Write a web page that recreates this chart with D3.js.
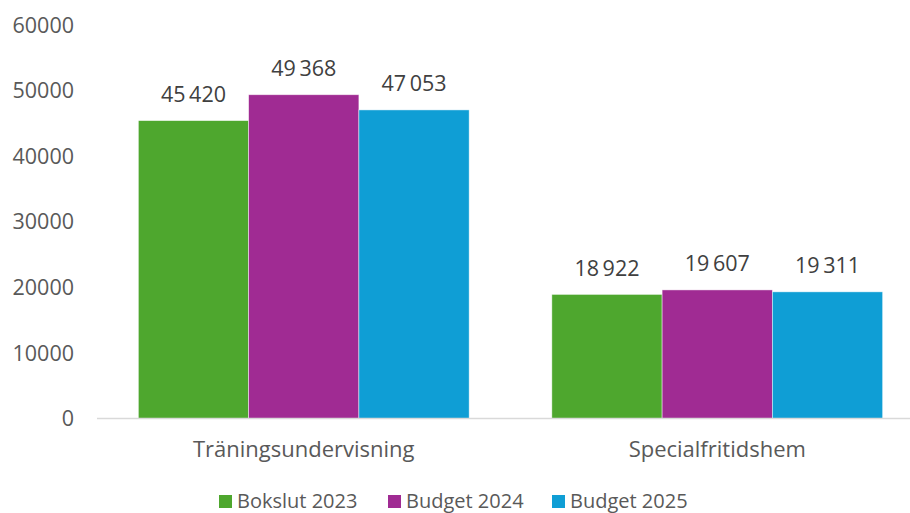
<!DOCTYPE html>
<html><head><meta charset="utf-8">
<script src="https://cdn.jsdelivr.net/npm/d3@7"></script>
<style>body{margin:0;background:#fff}svg{display:block}text{font-family:"Open Sans","Noto Sans",sans-serif}</style>
</head><body>
<svg id="c" width="910" height="513"></svg>
<script>
const categories = ["Träningsundervisning", "Specialfritidshem"];
const seriesNames = ["Bokslut 2023", "Budget 2024", "Budget 2025"];
const bokslut2023 = [45420, 18922];
const budget2024 = [49368, 19607];
const budget2025 = [47053, 19311];
const yTicks = [0, 10000, 20000, 30000, 40000, 50000, 60000];
const colors = ["#4EA72E", "#A02B93", "#0F9ED5"];

const seriesValues = [bokslut2023, budget2024, budget2025];
const svg = d3.select("#c");
const x0 = d3.scaleBand().domain(categories).range([97, 924]).paddingInner(0.2).paddingOuter(0.1);
const x1 = d3.scaleBand().domain(seriesNames).range([0, x0.bandwidth()]);
const y = d3.scaleLinear().domain([0, 60000]).range([418.5, 25]);
const fmt = v => d3.format(",")(v).replace(/,/g, "\u2009");
const txt = "#595959";

// y tick labels
svg.append("g").selectAll("text").data(yTicks).join("text")
  .attr("x", 74).attr("y", d => y(d)).attr("dy", "0.36em")
  .attr("text-anchor", "end").attr("fill", txt).attr("font-size", 21.5)
  .text(d => d);

// bars
const groups = svg.append("g").selectAll("g").data(categories).join("g")
  .attr("transform", d => `translate(${x0(d)},0)`);
groups.each(function(cat, ci) {
  const g = d3.select(this);
  const data = seriesNames.map((s, si) => ({s, si, v: seriesValues[si][ci]}));
  g.selectAll("rect").data(data).join("rect")
    .attr("x", d => x1(d.s)).attr("width", x1.bandwidth())
    .attr("y", d => y(d.v)).attr("height", d => y(0) - y(d.v))
    .attr("fill", d => colors[d.si])
    .attr("stroke", "#ffffff").attr("stroke-opacity", 0.6).attr("stroke-width", 0.75);
  g.selectAll("text").data(data).join("text")
    .attr("x", d => x1(d.s) + x1.bandwidth() / 2).attr("y", d => y(d.v) - 18.5)
    .attr("text-anchor", "middle").attr("fill", "#404040").attr("font-size", 21.5)
    .text(d => fmt(d.v));
});

// x axis line
svg.append("line").attr("x1", 97).attr("x2", 910).attr("y1", 418.5).attr("y2", 418.5)
  .attr("stroke", "#D9D9D9").attr("stroke-width", 1.5);

// category labels
svg.append("g").selectAll("text").data(categories).join("text")
  .attr("x", d => x0(d) + x0.bandwidth() / 2).attr("y", 457)
  .attr("text-anchor", "middle").attr("fill", txt).attr("font-size", 22)
  .text(d => d);

// legend
const legendX = [219, 388, 552];
const lg = svg.append("g").selectAll("g").data(seriesNames).join("g")
  .attr("transform", (d, i) => `translate(${legendX[i]},495)`);
lg.append("rect").attr("width", 13).attr("height", 13).attr("fill", (d, i) => colors[i]);
lg.append("text").attr("x", 18).attr("y", 13).attr("fill", txt).attr("font-size", 20).text(d => d);
</script>
</body></html>
